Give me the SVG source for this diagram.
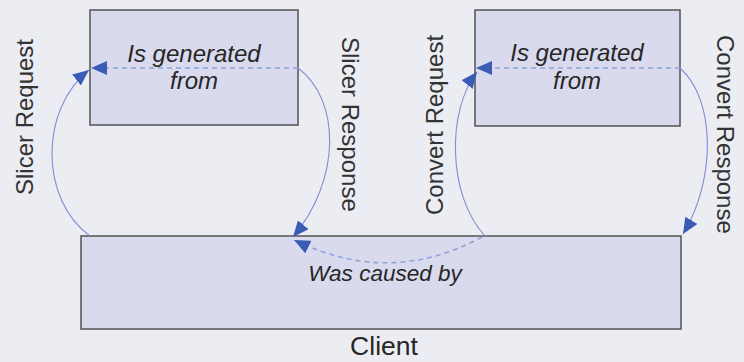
<svg xmlns="http://www.w3.org/2000/svg" width="744" height="362" viewBox="0 0 744 362">
<defs>
<style>
.box{fill:#dadaee;stroke:#5c5c5c;stroke-width:1.6}
.lbl{font-family:"Liberation Sans",Arial,sans-serif;fill:#262626}
.it{font-style:italic;font-size:24px;text-anchor:middle}
.rot{font-size:24px;fill:#333}
.curve{fill:none;stroke:#8a8ad6;stroke-width:1.1}
.dash{fill:none;stroke:#8ea2d6;stroke-width:1.6;stroke-dasharray:5 4}
</style>
<marker id="ah" markerUnits="userSpaceOnUse" markerWidth="17" markerHeight="14" refX="16" refY="7" orient="auto">
<path d="M0,0 L16,7 L0,14 z" fill="#3a5cb4"/>
</marker>
</defs>
<rect width="744" height="362" fill="#ececf3"/>
<g id="slicer">
<rect class="box" x="90" y="10" width="208" height="115"/>
<text class="lbl it" x="194" y="61.5">Is generated</text>
<text class="lbl it" x="194" y="89">from</text>
</g>
<g id="convert">
<rect class="box" x="475" y="10" width="205" height="116"/>
<text class="lbl it" x="577" y="61">Is generated</text>
<text class="lbl it" x="577" y="89">from</text>
</g>
<g id="client">
<rect class="box" x="81" y="236" width="600" height="93"/>
<text class="lbl" x="384" y="355" font-size="26.5" text-anchor="middle" fill="#333">Client</text>
</g>
<g id="connectors">
<path class="dash" d="M298,68 L91,68" marker-end="url(#ah)"/>
<path class="dash" d="M680,68 L476,68" marker-end="url(#ah)"/>
<path class="curve" d="M90,236 C40,200 39,110 89,70" marker-end="url(#ah)"/>
<path class="curve" d="M298,68 C341,100 341,180 293,237" marker-end="url(#ah)"/>
<path class="dash" d="M482,237 Q390,287 294,240" marker-end="url(#ah)"/>
<path class="curve" d="M485,236 C447,195 447,110 477,72" marker-end="url(#ah)"/>
<path class="curve" d="M680,68 C716,100 716,180 683,234" marker-end="url(#ah)"/>
<text class="lbl rot" transform="translate(33,117) rotate(-90)" text-anchor="middle">Slicer Request</text>
<text class="lbl rot" transform="translate(342,37) rotate(90)">Slicer Response</text>
<text class="lbl rot" transform="translate(443,125) rotate(-90)" text-anchor="middle">Convert Request</text>
<text class="lbl rot" transform="translate(717,35) rotate(90)">Convert Response</text>
<text class="lbl" x="385" y="281" font-size="22.5" font-style="italic" text-anchor="middle">Was caused by</text>
</g>
</svg>
